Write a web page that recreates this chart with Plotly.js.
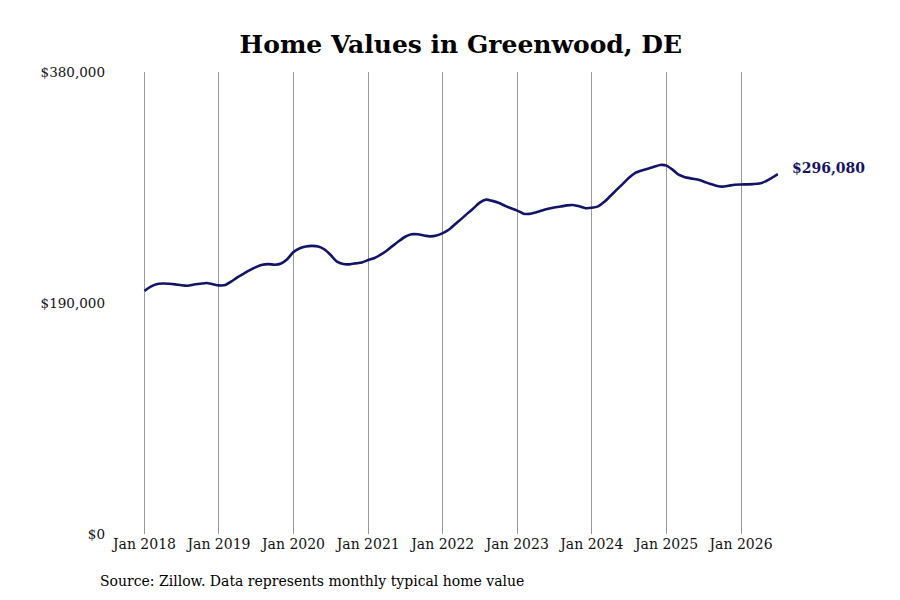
<!DOCTYPE html>
<html>
<head>
<meta charset="utf-8">
<script src="https://cdn.plot.ly/plotly-3.0.1.min.js"></script>
<style>html,body{margin:0;padding:0;background:#fff;}#chart{width:900px;height:600px;}</style>
</head>
<body>
<div id="chart"></div>
<script>
var startYear = 2018;
var v2018 = [200.0, 203.5, 205.5, 206.0, 205.8, 205.3, 204.6, 204.2, 205.2, 205.8, 206.5, 205.5];
var v2019 = [204.5, 204.8, 207.5, 211.0, 214.0, 217.0, 219.5, 221.5, 222.0, 221.5, 222.5, 226.0];
var v2020 = [232.0, 235.0, 236.5, 237.0, 236.5, 234.0, 229.5, 224.0, 222.0, 221.8, 222.6, 223.4];
var v2021 = [225.3, 227.0, 229.5, 233.0, 237.0, 241.0, 244.5, 246.5, 246.5, 245.5, 244.8, 245.5];
var v2022 = [247.5, 250.5, 254.5, 259.0, 263.5, 268.0, 272.5, 275.0, 274.0, 272.5, 270.0, 268.0];
var v2023 = [266.0, 263.5, 263.3, 264.5, 266.0, 267.5, 268.5, 269.3, 270.3, 270.6, 269.5, 268.0];
var v2024 = [268.3, 269.5, 273.0, 278.0, 283.0, 288.0, 293.0, 297.0, 299.0, 300.5, 302.0, 303.5];
var v2025 = [303.0, 299.5, 295.5, 293.5, 292.5, 291.5, 290.0, 288.0, 286.5, 285.7, 286.5, 287.3];
var v2026 = [287.5, 287.6, 287.8, 288.3, 290.0, 293.0, 296.08];
var yTickVals = [0, 190000, 380000];
var yTickText = ["$0", "$190,000", "$380,000"];
var lastLabel = "$296,080";

var series = [v2018, v2019, v2020, v2021, v2022, v2023, v2024, v2025, v2026];
var dates = [], values = [];
series.forEach(function (arr, i) {
  arr.forEach(function (v, m) {
    var mm = (m + 1 < 10 ? "0" : "") + (m + 1);
    dates.push((startYear + i) + "-" + mm + "-01");
    values.push(Math.round(v * 1000));
  });
});

var trace = {
  x: dates, y: values, type: "scatter", mode: "lines",
  line: {color: "#141466", width: 2.6, shape: "spline", smoothing: 0.6},
  hoverinfo: "skip"
};

var L = 142, R = 122, T = 72, B = 66;
var layout = {
  width: 900, height: 600,
  paper_bgcolor: "#fff", plot_bgcolor: "#fff",
  margin: {l: L, r: R, t: T, b: B},
  showlegend: false,
  font: {family: "DejaVu Serif", color: "#111"},
  title: {text: "<b>Home Values in Greenwood, DE</b>", x: 0.512, xanchor: "center", y: 0.927, yanchor: "middle",
          font: {family: "DejaVu Serif", size: 25, color: "#000"}},
  xaxis: {
    type: "date", range: ["2017-12-20", dates[dates.length - 1]],
    tickformat: "%b %Y", dtick: "M12", tick0: "2018-01-01",
    showgrid: true, gridcolor: "#999999", gridwidth: 1,
    zeroline: false, showline: false, ticks: "",
    tickfont: {family: "DejaVu Serif", size: 14, color: "#111"},
    automargin: false
  },
  yaxis: {
    range: [0, 380000], tickvals: yTickVals, ticktext: yTickText,
    showgrid: false, zeroline: false, showline: false, ticks: "",
    ticklabelstandoff: 36,
    tickfont: {family: "DejaVu Serif", size: 13.5, color: "#111"},
    automargin: false
  },
  annotations: [
    {x: dates[dates.length - 1], y: values[values.length - 1], xref: "x", yref: "y",
     text: "<b>" + lastLabel + "</b>", showarrow: false, xanchor: "left", yanchor: "middle",
     xshift: 12, yshift: 6, font: {family: "DejaVu Serif", size: 14, color: "#141466"}},
    {x: (98 - L) / (900 - L - R), y: (600 - B - 581) / (600 - T - B), xref: "paper", yref: "paper",
     xanchor: "left", yanchor: "middle",
     text: "Source: Zillow. Data represents monthly typical home value",
     showarrow: false, font: {family: "DejaVu Serif", size: 14, color: "#000"}}
  ]
};

Plotly.newPlot("chart", [trace], layout, {staticPlot: true, displayModeBar: false});
</script>
</body>
</html>
